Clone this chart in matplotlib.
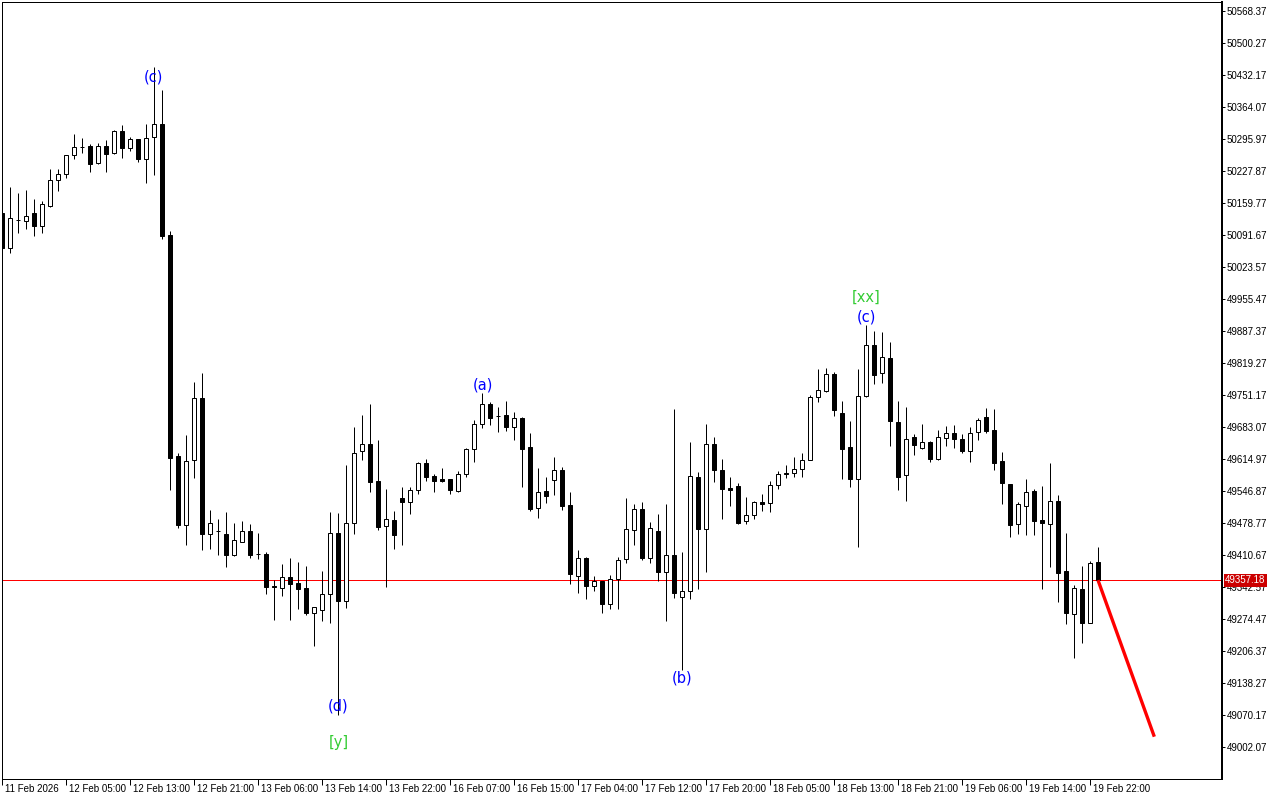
import numpy as np
import matplotlib
matplotlib.use('Agg')
import matplotlib.pyplot as plt
import matplotlib.transforms as mtransforms

# hourly candles
opens = [50138, 50063, 50124, 50122, 50138, 50111, 50154, 50209, 50221, 50262,
         50279, 50281, 50244, 50281, 50266, 50313, 50276, 50296, 50253, 50300,
         50327, 50092, 49621, 49474, 49613, 49744, 49455, 49462, 49455, 49411,
         49439, 49461, 49413, 49413, 49344, 49341, 49363, 49351, 49340, 49288,
         49293, 49328, 49458, 49313, 49478, 49631, 49647, 49568, 49473, 49485,
         49532, 49524, 49548, 49606, 49579, 49572, 49572, 49546, 49582, 49636,
         49689, 49731, 49707, 49709, 49684, 49702, 49640, 49510, 49547, 49570,
         49592, 49517, 49365, 49404, 49345, 49355, 49306, 49359, 49402, 49463,
         49508, 49405, 49462, 49374, 49411, 49321, 49334, 49576, 49465, 49646,
         49592, 49554, 49558, 49482, 49496, 49523, 49521, 49559, 49585, 49585,
         49594, 49613, 49746, 49760, 49795, 49712, 49640, 49573, 49750, 49858,
         49797, 49830, 49694, 49580, 49661, 49638, 49651, 49616, 49659, 49670,
         49657, 49631, 49672, 49704, 49677, 49611, 49562, 49476, 49516, 49547,
         49485, 49476, 49526, 49377, 49285, 49338, 49267, 49395]
highs = [50145, 50194, 50182, 50187, 50168, 50164, 50232, 50232, 50261, 50307,
         50299, 50285, 50287, 50294, 50315, 50326, 50301, 50296, 50328, 50450,
         50400, 50100, 49627, 49666, 49778, 49797, 49506, 49488, 49502, 49478,
         49483, 49476, 49458, 49416, 49358, 49392, 49404, 49396, 49387, 49299,
         49376, 49503, 49499, 49602, 49684, 49709, 49732, 49655, 49551, 49505,
         49555, 49556, 49609, 49615, 49583, 49595, 49572, 49590, 49638, 49699,
         49755, 49736, 49725, 49738, 49714, 49705, 49671, 49595, 49576, 49619,
         49597, 49544, 49421, 49407, 49367, 49355, 49368, 49407, 49533, 49519,
         49523, 49480, 49498, 49519, 49722, 49416, 49652, 49588, 49689, 49662,
         49615, 49576, 49563, 49535, 49526, 49540, 49568, 49590, 49602, 49619,
         49627, 49751, 49807, 49808, 49800, 49738, 49696, 49806, 49900, 49887,
         49885, 49864, 49738, 49726, 49668, 49689, 49654, 49677, 49686, 49687,
         49668, 49683, 49702, 49723, 49722, 49629, 49562, 49523, 49572, 49551,
         49558, 49607, 49538, 49458, 49347, 49387, 49398, 49427]
lows = [50060, 50053, 50095, 50105, 50090, 50095, 50152, 50186, 50212, 50253,
        50266, 50226, 50242, 50226, 50265, 50256, 50271, 50246, 50203, 50219,
        50083, 49549, 49469, 49431, 49574, 49421, 49423, 49411, 49386, 49409,
        49439, 49404, 49402, 49328, 49272, 49323, 49272, 49296, 49282, 49217,
        49270, 49266, 49070, 49297, 49455, 49613, 49545, 49464, 49343, 49423,
        49432, 49498, 49541, 49568, 49545, 49567, 49541, 49544, 49576, 49609,
        49682, 49688, 49672, 49675, 49655, 49556, 49504, 49489, 49522, 49538,
        49506, 49350, 49329, 49317, 49333, 49287, 49296, 49296, 49394, 49431,
        49400, 49393, 49356, 49271, 49319, 49166, 49316, 49338, 49375, 49567,
        49487, 49516, 49476, 49476, 49487, 49505, 49503, 49551, 49574, 49576,
        49577, 49612, 49737, 49758, 49707, 49572, 49556, 49427, 49746, 49775,
        49777, 49643, 49549, 49526, 49624, 49637, 49608, 49613, 49643, 49638,
        49628, 49609, 49655, 49671, 49592, 49519, 49450, 49455, 49453, 49453,
        49338, 49386, 49311, 49264, 49192, 49224, 49267, 49357.18]
closes = [50064, 50127, 50123, 50132, 50111, 50157, 50209, 50222, 50261, 50278,
          50278, 50242, 50281, 50263, 50314, 50276, 50296, 50253, 50298, 50327,
          50090, 49618, 49475, 49610, 49744, 49455, 49478, 49461, 49411, 49442,
          49461, 49411, 49412, 49343, 49342, 49363, 49348, 49338, 49288, 49299,
          49328, 49458, 49313, 49478, 49628, 49647, 49567, 49471, 49487, 49453,
          49524, 49549, 49606, 49577, 49569, 49569, 49548, 49582, 49636, 49689,
          49731, 49703, 49706, 49684, 49702, 49636, 49509, 49545, 49537, 49592,
          49514, 49370, 49404, 49345, 49355, 49306, 49359, 49399, 49465, 49508,
          49405, 49468, 49374, 49411, 49329, 49334, 49579, 49465, 49646, 49591,
          49551, 49548, 49479, 49496, 49523, 49519, 49559, 49582, 49582, 49594,
          49613, 49746, 49762, 49795, 49719, 49637, 49573, 49749, 49858, 49794,
          49833, 49696, 49577, 49657, 49644, 49651, 49616, 49661, 49670, 49657,
          49631, 49671, 49699, 49675, 49606, 49563, 49475, 49519, 49544, 49484,
          49478, 49526, 49373, 49288, 49340, 49267, 49393, 49357.18]

time_labels = ['11 Feb 2026', '12 Feb 05:00', '12 Feb 13:00', '12 Feb 21:00',
               '13 Feb 06:00', '13 Feb 14:00', '13 Feb 22:00', '16 Feb 07:00',
               '16 Feb 15:00', '17 Feb 04:00', '17 Feb 12:00', '17 Feb 20:00',
               '18 Feb 05:00', '18 Feb 13:00', '18 Feb 21:00', '19 Feb 06:00',
               '19 Feb 14:00', '19 Feb 22:00']
label_bars = list(range(0, 137, 8))

price_ticks = [49002.07, 49070.17, 49138.27, 49206.37, 49274.47, 49342.57,
               49410.67, 49478.77, 49546.87, 49614.97, 49683.07, 49751.17,
               49819.27, 49887.37, 49955.47, 50023.57, 50091.67, 50159.77,
               50227.87, 50295.97, 50364.07, 50432.17, 50500.27, 50568.37]
last_price = 49357.18

# wave marks: text, bar, price, colour
wave_text = ['(c)', '(d)', '[y]', '(a)', '(b)', '[xx]', '(c)']
wave_bar = [18.9, 42, 42.1, 60.1, 85, 108, 108]
wave_price = [50428, 49089, 49011, 49772, 49149, 49960, 49917]
wave_color = ['#0000ff', '#0000ff', '#33cc33', '#0000ff', '#0000ff', '#33cc33', '#0000ff']

# projected move
forecast_bar = [137, 144.04]
forecast_price = [49357.18, 49024]

W, H = 1280, 800
fig = plt.figure(figsize=(W / 100, H / 100), dpi=100)
ax = fig.add_axes([2 / W, 21 / H, 1220 / W, 777 / H])
px = 0.72  # one pixel in points

o = np.array(opens, float)
h = np.array(highs, float)
l = np.array(lows, float)
c = np.array(closes, float)
x = np.arange(len(o))
up = c >= o

ax.vlines(x, l, h, color='black', linewidth=px, zorder=2)
bottom = np.minimum(o, c)
height = np.abs(c - o)
ax.bar(x[up], height[up], 0.5, bottom=bottom[up], facecolor='white',
       edgecolor='black', linewidth=px, zorder=3)
ax.bar(x[~up], height[~up], 0.5, bottom=bottom[~up], facecolor='black',
       edgecolor='black', linewidth=px, zorder=3)

ax.axhline(last_price, color='#ff0000', linewidth=px, zorder=1)
ax.plot(forecast_bar, forecast_price, color='#ff0000', linewidth=2.4,
        solid_capstyle='butt', zorder=4)

for t, b, p, col in zip(wave_text, wave_bar, wave_price, wave_color):
    ax.text(b, p, t, color=col, fontsize=10.5, ha='center', va='center',
            family=['DejaVu Sans'], zorder=5)

ax.set_xlim(0, 152.5)
ax.set_ylim(48933.97, 50587.52)

ax.yaxis.tick_right()
ax.set_yticks(price_ticks)
ax.set_yticklabels([f'{v:.2f}' for v in price_ticks])
ax.tick_params(axis='y', direction='out', length=3 * px, width=px, pad=1,
               labelsize=7)
ax.set_xticks(label_bars)
ax.set_xticklabels(time_labels)
ax.tick_params(axis='x', direction='out', length=6 * px, width=px, pad=-1,
               labelsize=7)
shift = mtransforms.ScaledTranslation(3 / 100, 0, fig.dpi_scale_trans)
for lab in ax.get_xticklabels():
    lab.set_horizontalalignment('left')
    lab.set_transform(lab.get_transform() + shift)
for lab in ax.get_xticklabels() + ax.get_yticklabels():
    lab.set_family('Liberation Sans')

for side in ['left', 'top', 'bottom']:
    ax.spines[side].set_linewidth(px)
ax.spines['right'].set_linewidth(2 * px)

ax.text(1.0025, last_price, f'{last_price:.2f}', transform=ax.get_yaxis_transform(),
        ha='left', va='center', color='white', fontsize=7, family='Liberation Sans',
        bbox=dict(boxstyle='square,pad=0.15', facecolor='#cc0000', edgecolor='none'),
        zorder=6, clip_on=False)

fig.savefig('out.png', dpi=100)
